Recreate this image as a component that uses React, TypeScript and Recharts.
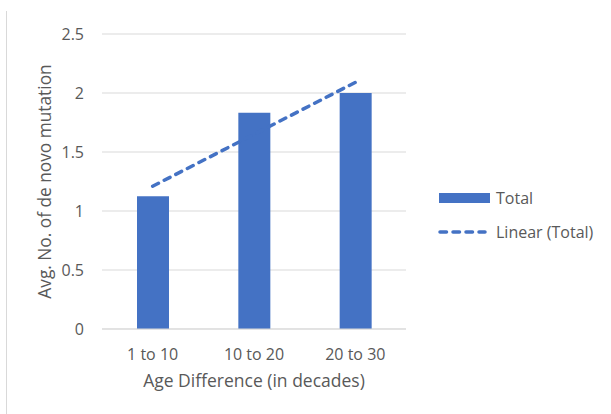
import React from 'react';
import {
  ComposedChart,
  Bar,
  Line,
  XAxis,
  YAxis,
  CartesianGrid,
} from 'recharts';

// values
const ageGroups = ['1 to 10', '10 to 20', '20 to 30'];
const totals = [1.125, 1.833, 2.0];
const linearTotal = [1.21, 1.65, 2.09];
const yTicks = [0, 0.5, 1, 1.5, 2, 2.5];

const BLUE = '#4472C4';
const GRID = '#D9D9D9';
const TEXT = '#595959';
const FONT = '"Open Sans", "Noto Sans", sans-serif';
const DASH = '6.5 6.5';

const chartData = ageGroups.map((g, i) => ({
  group: g,
  total: totals[i],
  linear: linearTotal[i],
}));

// legend drawn outside the chart so it doesn't eat into the plot width
const LegendBox = () => (
  <div
    style={{
      position: 'absolute',
      left: 438,
      top: 187,
      width: 170,
      fontFamily: FONT,
      fontSize: 16,
      color: TEXT,
    }}
  >
    <div style={{ display: 'flex', alignItems: 'center', height: 22 }}>
      <svg width={58} height={14}>
        <rect x={1} y={2} width={51} height={10} fill={BLUE} />
      </svg>
      <span>Total</span>
    </div>
    <div style={{ display: 'flex', alignItems: 'center', height: 22, marginTop: 12 }}>
      <svg width={58} height={14}>
        <line
          x1={2}
          y1={7}
          x2={47}
          y2={7}
          stroke={BLUE}
          strokeWidth={3.5}
          strokeDasharray={DASH}
          strokeLinecap="round"
        />
      </svg>
      <span>Linear (Total)</span>
    </div>
  </div>
);

const YTitle = ({ viewBox }: any) => {
  const cy = viewBox.y + viewBox.height / 2;
  return (
    <text
      x={51}
      y={cy}
      transform={`rotate(-90, 51, ${cy})`}
      textAnchor="middle"
      fill={TEXT}
      fontSize={17.3}
      fontFamily={FONT}
    >
      Avg. No. of de novo mutation
    </text>
  );
};

export default function App() {
  return (
    <div style={{ position: 'absolute', left: 0, top: 0, width: 611, height: 414, background: '#fff' }}>
      <div
        style={{
          position: 'absolute',
          left: 6,
          top: 11,
          width: 1,
          height: 403,
          background: GRID,
        }}
      />
      <ComposedChart
        width={611}
        height={414}
        data={chartData}
        margin={{ top: 34, right: 205, bottom: 0, left: 0 }}
        style={{ fontFamily: FONT }}
      >
        <CartesianGrid vertical={false} stroke={GRID} strokeWidth={1} />
        <XAxis
          dataKey="group"
          height={85}
          axisLine={{ stroke: GRID }}
          tickLine={false}
          tickMargin={14}
          tick={{ fill: TEXT, fontSize: 16 }}
          label={{
            value: 'Age Difference (in decades)',
            position: 'insideBottom',
            offset: 27,
            fill: TEXT,
            fontSize: 17.5,
          }}
        />
        <YAxis
          width={102}
          domain={[0, 2.5]}
          ticks={yTicks}
          axisLine={false}
          tickLine={false}
          tickMargin={12}
          tick={{ fill: TEXT, fontSize: 16 }}
          label={<YTitle />}
        />
        <Bar dataKey="total" name="Total" fill={BLUE} barSize={32} isAnimationActive={false} />
        <Line
          dataKey="linear"
          name="Linear (Total)"
          type="linear"
          stroke={BLUE}
          strokeWidth={3.5}
          strokeDasharray={DASH}
          strokeLinecap="round"
          dot={false}
          activeDot={false}
          isAnimationActive={false}
        />
      </ComposedChart>
      <LegendBox />
    </div>
  );
}
